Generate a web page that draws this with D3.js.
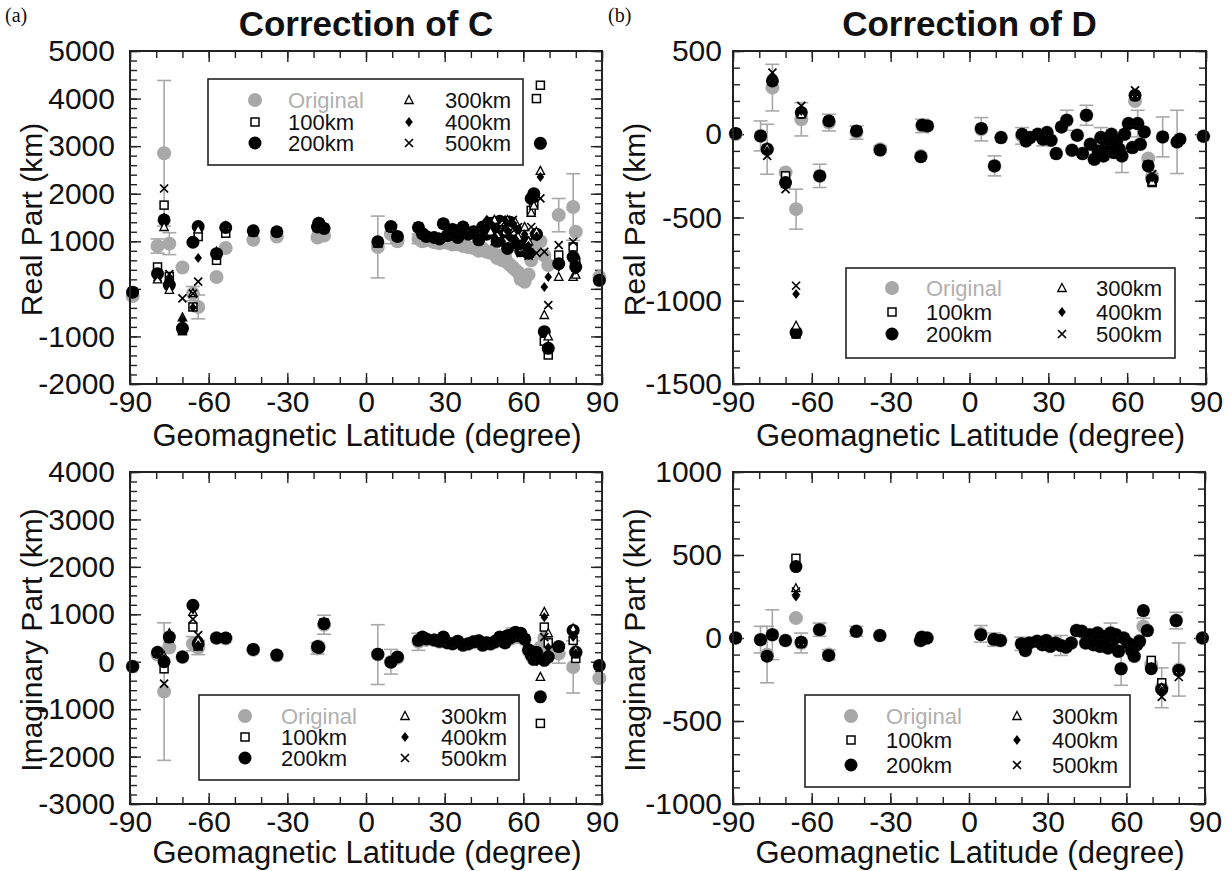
<!DOCTYPE html>
<html>
<head>
<meta charset="utf-8">
<script src="https://cdn.jsdelivr.net/npm/d3@7"></script>
<style>
  body { margin: 0; background: #fff; }
  text { font-family: "Liberation Sans", Arial, Helvetica, sans-serif; fill: #111; }
</style>
</head>
<body>
<script>
// station geomagnetic latitudes (shared by all four panels)
var lat = [-89, -79.5, -77, -75, -70, -66, -64, -57, -53.5, -43,
  -34, -18.5, -18, -16, 4.5, 9.5, 12, 20, 21.5, 23,
  26, 28, 29.5, 31, 33, 35, 37, 39, 41, 43,
  44.5, 46, 47.5, 49, 50, 51, 52, 53, 54, 55,
  56, 57, 58, 59, 60.5, 62, 63, 64, 65, 66.5,
  68, 69.5, 73.5, 79, 80, 89]

var depths = ["100km", "200km", "300km", "400km", "500km"]
var xTicks = [-90, -60, -30, 0, 30, 60, 90]

// (a) top: real part, correction of C
var realC_orig = [-150, 900, 2850, 950, 450, -100, -380, 250, 860, 1030,
  1100, 1080, 1150, 1120, 880, 1150, 1000, 1050, 1000, 1020,
  980, 960, 1000, 970, 930, 940, 900, 880, 860, 800,
  850, 780, 760, 720, 650, 700, 600, 680, 550, 500,
  450, 400, 350, 200, 150, 300, 600, 900, 950, 1000,
  700, 500, 1550, 1720, 1200, 250]
var realC_err = [0, 150, 1530, 230, 0, 150, 250, 0, 0, 0,
  0, 0, 0, 0, 650, 200, 0, 100, 0, 0,
  0, 0, 0, 0, 0, 0, 0, 0, 0, 0,
  0, 0, 0, 0, 0, 0, 0, 0, 0, 0,
  0, 0, 0, 0, 0, 0, 0, 0, 0, 0,
  0, 0, 350, 700, 0, 0]
var realC_100 = [-60, 460, 1760, 260, -880, -380, 1100, 600, 1170, 1200,
  1200, 1300, 1380, 1270, 970, 1310, 1100, 1300, 1160, 1100,
  1080, 1050, 1370, 1120, 1250, 1080, 1300, 1150, 1200, 1030,
  1300, 1150, 1380, 1250, 1000, 1420, 1200, 1350, 850, 1400,
  1100, 1250, 950, 800, 1000, 750, 1650, 1800, 4000, 4280,
  -1100, -1390, 710, 880, 560, 180]
var realC_200 = [-70, 320, 1450, 80, -830, 980, 1310, 740, 1290, 1220,
  1200, 1300, 1380, 1270, 990, 1310, 1100, 1290, 1160, 1100,
  1080, 1050, 1370, 1120, 1250, 1080, 1300, 1150, 1200, 1030,
  1300, 1150, 1380, 1250, 1000, 1420, 1200, 1350, 850, 1400,
  1100, 1250, 950, 800, 1000, 750, 1900, 2000, 1150, 3060,
  -900, -1250, 530, 670, 460, 180]
var realC_300 = [-70, 200, 1300, -20, -600, -90, 1250, 780, 1320, 1230,
  1210, 1320, 1400, 1260, 960, 1290, 1110, 1310, 1180, 1120,
  1090, 1070, 1380, 1140, 1270, 1100, 1320, 1170, 1220, 1050,
  1320, 1400, 1200, 1450, 1150, 1300, 1400, 1200, 1450, 1300,
  1200, 1400, 1100, 850, 1300, 1000, 1600, 1750, 1200, 2480,
  -550, -1000, 250, 250, 300, 190]
var realC_400 = [-70, 330, 1500, 200, -650, -390, 650, 760, 1300, 1210,
  1190, 1290, 1370, 1250, 980, 1300, 1090, 1280, 1150, 1090,
  1070, 1040, 1360, 1110, 1240, 1070, 1290, 1140, 1190, 1020,
  1290, 1450, 1370, 1100, 1300, 1460, 1000, 1450, 1200, 1390,
  1350, 1050, 1250, 900, 1150, 900, 1850, 1950, 1100, 2350,
  40, 250, 460, 530, 400, 180]
var realC_500 = [-60, 250, 2110, 310, -200, -100, 150, 700, 1280, 1220,
  1200, 1300, 1380, 1270, 950, 1300, 1100, 1300, 1160, 1100,
  1080, 1050, 1370, 1120, 1250, 1080, 1300, 1150, 1200, 1030,
  1300, 1350, 1450, 1000, 1200, 1300, 1450, 1100, 1300, 1150,
  1450, 900, 1300, 750, 900, 700, 1300, 1100, 750, 1900,
  780, -340, 920, 990, 600, 180]

// (b) top: real part, correction of D
var realD_orig = [0, -10, -90, 280, -230, -450, 90, -250, 70, 10,
  -90, -130, 50, 50, 30, -190, -20, -10, -40, -20,
  0, -30, 10, -36, -116, 44, 84, -96, -6, -116,
  114, -60, -150, -100, -20, -130, -50, -80, 0, -110,
  -40, -90, -130, 0, 64, -80, 200, 64, -60, 14,
  -146, -250, -16, -46, -30, -12]
var realD_err = [0, 90, 150, 140, 0, 120, 100, 70, 50, 40,
  20, 0, 40, 0, 70, 60, 0, 50, 0, 0,
  0, 40, 0, 0, 0, 0, 60, 0, 0, 0,
  60, 0, 0, 0, 60, 0, 0, 0, 0, 0,
  0, 0, 100, 0, 0, 0, 0, 80, 0, 0,
  0, 0, 120, 190, 0, 0]
var realD_100 = [5, -10, -90, 320, -250, -1200, 130, -250, 80, 20,
  -95, -135, 55, 50, 35, -190, -20, 0, -40, -20,
  0, -30, 10, -36, -116, 44, 84, -96, -6, -116,
  114, -60, -150, -100, -20, -130, -50, -80, 0, -110,
  -40, -90, -130, 0, 64, -80, 230, 64, -60, 14,
  -186, -290, -16, -46, -30, -12]
var realD_200 = [5, -10, -90, 320, -290, -1190, 130, -250, 80, 20,
  -95, -135, 55, 50, 35, -190, -20, 0, -40, -20,
  0, -30, 10, -36, -116, 44, 84, -96, -6, -116,
  114, -60, -150, -100, -20, -130, -50, -80, 0, -110,
  -40, -90, -130, 0, 64, -80, 234, 64, -60, 14,
  -190, -270, -16, -46, -30, -12]
var realD_300 = [5, -10, -80, 340, -300, -1150, 120, -250, 80, 20,
  -95, -135, 55, 50, 35, -190, -20, 0, -40, -20,
  0, -30, 10, -36, -116, 44, 84, -96, -6, -116,
  114, -60, -150, -100, -20, -130, -50, -80, 0, -110,
  -40, -90, -130, 0, 64, -80, 240, 64, -60, 14,
  -190, -286, -16, -46, -30, -12]
var realD_400 = [5, -10, -100, 330, -310, -960, 140, -250, 80, 20,
  -95, -135, 55, 50, 35, -190, -20, 0, -40, -20,
  0, -30, 10, -36, -116, 44, 84, -96, -6, -116,
  114, -60, -150, -100, -20, -130, -50, -80, 0, -110,
  -40, -90, -130, 0, 64, -80, 240, 64, -60, 14,
  -190, -260, -16, -46, -30, -12]
var realD_500 = [5, -10, -130, 370, -330, -910, 170, -250, 80, 20,
  -95, -135, 55, 50, 35, -190, -20, 0, -40, -20,
  0, -30, 10, -36, -116, 44, 84, -96, -6, -116,
  114, -60, -150, -100, -20, -130, -50, -80, 0, -110,
  -40, -90, -130, 0, 64, -80, 264, 64, -60, 14,
  -190, -240, -16, -46, -30, -12]

// (a) bottom: imaginary part, correction of C
var imagC_orig = [-100, 150, -630, 300, 100, 380, 300, 500, 490, 250,
  130, 280, 320, 780, 150, 0, 80, 420, 480, 460,
  450, 420, 480, 400, 380, 420, 350, 370, 410, 430,
  350, 390, 370, 410, 440, 500, 470, 400, 540, 480,
  560, 600, 540, 580, 460, 230, 130, 50, 180, 300,
  500, 300, 170, -110, 200, -350]
var imagC_err = [0, 0, 1450, 0, 0, 150, 150, 0, 0, 0,
  0, 120, 0, 200, 630, 260, 0, 180, 0, 0,
  0, 0, 0, 0, 0, 0, 0, 0, 0, 0,
  0, 0, 0, 0, 0, 0, 0, 0, 0, 0,
  150, 0, 150, 0, 0, 0, 0, 0, 0, 0,
  0, 0, 200, 550, 0, 0]
var imagC_100 = [-100, 180, -150, 500, 100, 730, 330, 500, 500, 260,
  140, 320, 300, 820, 160, -10, 100, 450, 520, 480,
  460, 430, 520, 400, 380, 430, 350, 380, 420, 440,
  350, 400, 380, 420, 450, 520, 480, 400, 550, 500,
  580, 620, 550, 600, 480, 250, 150, 50, 200, -1300,
  730, 400, 320, 450, 70, -80]
var imagC_200 = [-100, 200, 0, 520, 100, 1190, 380, 500, 500, 260,
  140, 320, 300, 800, 160, -10, 100, 450, 520, 480,
  460, 430, 520, 400, 380, 430, 350, 380, 420, 440,
  350, 400, 380, 420, 450, 520, 480, 400, 550, 500,
  580, 620, 550, 600, 480, 250, 150, 50, 200, -740,
  30, 100, 320, 660, 200, -80]
var imagC_300 = [-100, 220, 120, 600, 100, 1050, 450, 500, 500, 260,
  140, 320, 300, 800, 160, -10, 100, 450, 520, 480,
  460, 430, 520, 400, 380, 430, 350, 380, 420, 440,
  350, 400, 380, 420, 450, 520, 480, 400, 550, 500,
  580, 620, 550, 600, 480, 250, 150, 50, 200, -320,
  1050, 600, 320, 700, 250, -80]
var imagC_400 = [-100, 200, 60, 560, 100, 1100, 350, 500, 500, 260,
  140, 320, 300, 800, 160, -10, 100, 450, 520, 480,
  460, 430, 520, 400, 380, 430, 350, 380, 420, 440,
  350, 400, 380, 420, 450, 520, 480, 400, 550, 500,
  580, 620, 550, 600, 480, 250, 150, 50, 200, 100,
  940, 300, 320, 520, 180, -80]
var imagC_500 = [-100, 190, -460, 540, 100, 900, 560, 500, 500, 260,
  140, 320, 300, 800, 160, -10, 100, 450, 520, 480,
  460, 430, 520, 400, 380, 430, 350, 380, 420, 440,
  350, 400, 380, 420, 450, 520, 480, 400, 550, 500,
  580, 620, 550, 600, 480, 250, 150, 50, 200, 0,
  520, 250, 320, 600, 150, -80]

// (b) bottom: imaginary part, correction of D
var imagD_orig = [0, -10, -100, 20, -15, 120, -30, 50, -100, 40,
  15, -15, 5, 0, 25, -10, -15, -35, -75, -30,
  -20, -40, -15, -50, -30, -45, -55, -30, 45, 40,
  -30, 20, -40, 30, -50, 10, -20, -60, 30, -10,
  20, -80, -185, 0, -30, -75, -110, -40, -20, 70,
  45, -160, -300, 105, -190, 0]
var imagD_err = [0, 80, 170, 150, 0, 0, 60, 40, 30, 30,
  0, 0, 0, 0, 50, 40, 0, 40, 0, 0,
  0, 0, 0, 0, 0, 60, 0, 0, 0, 0,
  0, 0, 0, 0, 0, 0, 0, 0, 60, 0,
  0, 0, 100, 0, 0, 0, 0, 0, 0, 50,
  0, 0, 120, 50, 160, 0]
var imagD_100 = [0, -10, -110, 20, -15, 480, -25, 50, -105, 40,
  15, -15, 5, 0, 20, -8, -15, -35, -75, -30,
  -20, -40, -15, -50, -30, -45, -55, -30, 45, 40,
  -30, 20, -40, 30, -50, 10, -20, -60, 30, -10,
  20, -80, -185, 0, -30, -75, -110, -40, -20, 165,
  45, -135, -270, 105, -195, 0]
var imagD_200 = [0, -10, -110, 20, -15, 430, -25, 50, -105, 40,
  15, -15, 5, 0, 20, -8, -15, -35, -75, -30,
  -20, -40, -15, -50, -30, -45, -55, -30, 45, 40,
  -30, 20, -40, 30, -50, 10, -20, -60, 30, -10,
  20, -80, -185, 0, -30, -75, -110, -40, -20, 165,
  45, -185, -310, 105, -195, 0]
var imagD_300 = [0, -10, -110, 20, -15, 300, -25, 50, -105, 40,
  15, -15, 5, 0, 20, -8, -15, -35, -75, -30,
  -20, -40, -15, -50, -30, -45, -55, -30, 45, 40,
  -30, 20, -40, 30, -50, 10, -20, -60, 30, -10,
  20, -80, -185, 0, -30, -75, -110, -40, -20, 165,
  45, -180, -300, 105, -195, 0]
var imagD_400 = [0, -10, -110, 20, -15, 250, -25, 50, -105, 40,
  15, -15, 5, 0, 20, -8, -15, -35, -75, -30,
  -20, -40, -15, -50, -30, -45, -55, -30, 45, 40,
  -30, 20, -40, 30, -50, 10, -20, -60, 30, -10,
  20, -80, -185, 0, -30, -75, -110, -40, -20, 165,
  45, -185, -320, 105, -195, 0]
var imagD_500 = [0, -10, -110, 20, -15, 280, -35, 50, -105, 40,
  15, -15, 5, 0, 20, -8, -15, -35, -75, -30,
  -20, -40, -15, -50, -30, -45, -55, -30, 45, 40,
  -30, 20, -40, 30, -50, 10, -20, -60, 30, -10,
  20, -80, -185, 0, -30, -75, -110, -40, -20, 165,
  45, -185, -355, 105, -235, 0]

var grey = "#a8a8a8"

var panels = [
  { tag: "(a)", title: "Correction of C", ytitle: "Real Part (km)",
    box: [130, 51, 602, 384], domain: [-2000, 5000], major: 1000, minor: 200, pad: 15, xt: 62,
    orig: realC_orig, err: realC_err,
    series: [realC_100, realC_200, realC_300, realC_400, realC_500],
    legend: { x: 208, y: 79, w: 315, h: 86, rows: [21, 43, 64], cols: [47, 80, 201, 237] } },
  { tag: "(b)", title: "Correction of D", ytitle: "Real Part (km)",
    box: [733, 51, 1206, 384], domain: [-1500, 500], major: 500, minor: 100, pad: 11, xt: 62,
    orig: realD_orig, err: realD_err,
    series: [realD_100, realD_200, realD_300, realD_400, realD_500],
    legend: { x: 846, y: 268, w: 329, h: 90, rows: [20, 44, 66], cols: [46, 80, 216, 250] } },
  { tag: null, title: null, ytitle: "Imaginary Part (km)",
    box: [130, 472, 602, 804], domain: [-3000, 4000], major: 1000, minor: 200, pad: 15, xt: 59,
    orig: imagC_orig, err: imagC_err,
    series: [imagC_100, imagC_200, imagC_300, imagC_400, imagC_500],
    legend: { x: 199, y: 695, w: 320, h: 85, rows: [21, 42, 63], cols: [46, 82, 206, 242] } },
  { tag: null, title: null, ytitle: "Imaginary Part (km)",
    box: [733, 472, 1205, 804], domain: [-1000, 1000], major: 500, minor: 100, pad: 11, xt: 59,
    orig: imagD_orig, err: imagD_err,
    series: [imagD_100, imagD_200, imagD_300, imagD_400, imagD_500],
    legend: { x: 805, y: 695, w: 325, h: 92, rows: [21, 45, 70], cols: [46, 81, 212, 247] } }
]

var svg = d3.select("body").append("svg")
  .attr("width", 1230)
  .attr("height", 871)

// draws one marker type at (0,0) inside g
function marker(g, kind) {
  if (kind === "orig") {
    g.append("circle").attr("r", 7).attr("fill", grey)
  } else if (kind === 0) {
    g.append("rect").attr("x", -4).attr("y", -4).attr("width", 8).attr("height", 8)
      .attr("fill", "#fff").attr("stroke", "#000").attr("stroke-width", 1.5)
  } else if (kind === 1) {
    g.append("circle").attr("r", 6.5).attr("fill", "#000")
  } else if (kind === 2) {
    g.append("path").attr("d", "M0,-4.5L4.2,3.5L-4.2,3.5Z")
      .attr("fill", "#fff").attr("stroke", "#000").attr("stroke-width", 1.3)
  } else if (kind === 3) {
    g.append("path").attr("d", "M0,-5L3.8,0L0,5L-3.8,0Z").attr("fill", "#000")
  } else {
    g.append("path").attr("d", "M-4,-4L4,4M-4,4L4,-4")
      .attr("stroke", "#000").attr("stroke-width", 1.7).attr("fill", "none")
  }
}

// plain hyphen minus, as in the original figure
function plain(d) { return String(d) }

panels.forEach(function (p) {
  var x = d3.scaleLinear().domain([-90, 90]).range([p.box[0], p.box[2]])
  var y = d3.scaleLinear().domain(p.domain).range([p.box[3], p.box[1]])
  var g = svg.append("g")

  var minorY = d3.range(p.domain[0], p.domain[1] + 1, p.minor)
  var majorY = d3.range(p.domain[0], p.domain[1] + 1, p.major)
  var minorX = d3.range(-90, 91, 10)

  // ticks pointing inward on all four sides
  function ticks(axis, tr, vals, len, labels, pad) {
    var a = g.append("g").attr("transform", tr)
      .call(axis.tickValues(vals).tickSize(-len).tickPadding(pad || 9)
        .tickFormat(labels ? plain : ""))
    a.select(".domain").remove()
    a.selectAll("line").attr("stroke", "#222").attr("stroke-width", 1.4)
    a.selectAll("text").style("font-size", "30px").attr("fill", "#111")
  }
  var bt = "translate(0," + p.box[3] + ")"
  var tp = "translate(0," + p.box[1] + ")"
  var lf = "translate(" + p.box[0] + ",0)"
  var rt = "translate(" + p.box[2] + ",0)"
  ticks(d3.axisBottom(x), bt, minorX, 7, false)
  ticks(d3.axisBottom(x), bt, xTicks, 11, true, 7)
  ticks(d3.axisTop(x), tp, minorX, 7, false)
  ticks(d3.axisTop(x), tp, xTicks, 11, false)
  ticks(d3.axisLeft(y), lf, minorY, 7, false)
  ticks(d3.axisLeft(y), lf, majorY, 11, true, p.pad)
  ticks(d3.axisRight(y), rt, minorY, 7, false)
  ticks(d3.axisRight(y), rt, majorY, 11, false)

  // error bars of the original values
  var eb = g.append("g").attr("stroke", grey).attr("stroke-width", 1.6)
  lat.forEach(function (la, i) {
    var e = p.err[i]
    if (!e) return
    var cx = x(la)
    eb.append("line").attr("x1", cx).attr("x2", cx)
      .attr("y1", y(p.orig[i] - e)).attr("y2", y(p.orig[i] + e))
    eb.append("line").attr("x1", cx - 7).attr("x2", cx + 7)
      .attr("y1", y(p.orig[i] - e)).attr("y2", y(p.orig[i] - e))
    eb.append("line").attr("x1", cx - 7).attr("x2", cx + 7)
      .attr("y1", y(p.orig[i] + e)).attr("y2", y(p.orig[i] + e))
  })

  lat.forEach(function (la, i) {
    marker(g.append("g").attr("transform", "translate(" + x(la) + "," + y(p.orig[i]) + ")"), "orig")
  })
  p.series.forEach(function (vals, k) {
    lat.forEach(function (la, i) {
      marker(g.append("g").attr("transform", "translate(" + x(la) + "," + y(vals[i]) + ")"), k)
    })
  })

  // frame
  g.append("rect")
    .attr("x", p.box[0]).attr("y", p.box[1])
    .attr("width", p.box[2] - p.box[0]).attr("height", p.box[3] - p.box[1])
    .attr("fill", "none").attr("stroke", "#222").attr("stroke-width", 2)

  // legend
  var L = p.legend
  var lg = g.append("g").attr("transform", "translate(" + L.x + "," + L.y + ")")
  lg.append("rect").attr("width", L.w).attr("height", L.h)
    .attr("fill", "#fff").attr("stroke", "#222").attr("stroke-width", 1.6)
  var items = [["orig", "Original"], [0, depths[0]], [1, depths[1]],
    [2, depths[2]], [3, depths[3]], [4, depths[4]]]
  items.forEach(function (it, j) {
    var col = j < 3 ? 0 : 2
    var ry = L.rows[j % 3]
    marker(lg.append("g").attr("transform", "translate(" + L.cols[col] + "," + ry + ")"), it[0])
    lg.append("text").attr("x", L.cols[col + 1]).attr("y", ry + 8)
      .style("font-size", "22px")
      .style("fill", it[0] === "orig" ? "#b0b0b0" : "#111")
      .text(it[1])
  })

  // axis titles
  var cx = (p.box[0] + p.box[2]) / 2
  g.append("text").attr("x", cx + 1).attr("y", p.box[3] + p.xt)
    .attr("text-anchor", "middle").style("font-size", "31px")
    .text("Geomagnetic Latitude (degree)")
  g.append("text")
    .attr("transform", "translate(" + (p.box[0] - 88) + "," + ((p.box[1] + p.box[3]) / 2 + 2) + ") rotate(-90)")
    .attr("text-anchor", "middle").style("font-size", "30px")
    .text(p.ytitle)

  if (p.title) {
    g.append("text").attr("x", cx).attr("y", 36)
      .attr("text-anchor", "middle").style("font-size", "35px").style("font-weight", "bold")
      .text(p.title)
    g.append("text").attr("x", p.box[0] - 125).attr("y", 22)
      .style("font-family", "'Liberation Serif', 'Times New Roman', serif").style("font-size", "20px")
      .text(p.tag)
  }
})
</script>
</body>
</html>
